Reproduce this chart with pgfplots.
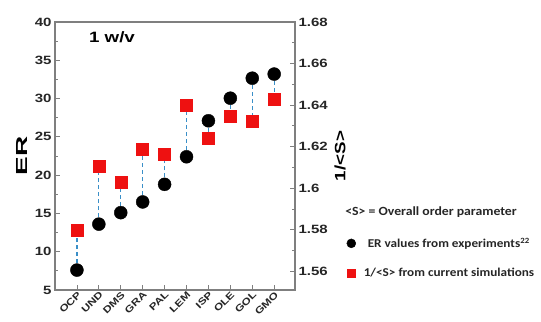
\documentclass[border=0pt]{standalone}
\usepackage{fontspec}
\setmainfont{Liberation Sans}[FakeStretch=1.25]
\newfontfamily\calib{Carlito}[FakeStretch=1.1]
\usepackage{pgfplots}
\pgfplotsset{compat=1.18}
\usepackage{pgfplotstable}
\definecolor{dashblue}{HTML}{3A8FC8}
\definecolor{framegray}{HTML}{7F7F7F}
\definecolor{sqred}{HTML}{EE1111}

\pgfplotstableread{
x er s
0 7.6 1.580
1 13.6 1.6107
2 15.1 1.603
3 16.5 1.6188
4 18.8 1.6164
5 22.4 1.640
6 27.1 1.6242
7 30.05 1.6347
8 32.66 1.6323
9 33.2 1.6427
}\data

\begin{document}
\begin{tikzpicture}
\begin{axis}[name=main, scale only axis, width=240pt, height=268pt,
 xmin=-1, xmax=9.95, ymin=5, ymax=40,
 xtick={0,...,9}, xticklabels={OCP,UND,DMS,GRA,PAL,LEM,ISP,OLE,GOL,GMO},
 xtick pos=bottom, ytick pos=left, ytick={5,10,...,40}, minor y tick num=1,
 tick align=inside, major tick length=5pt, minor tick length=3pt,
 axis line style={framegray, line width=1.3pt},
 every tick/.style={framegray, line width=0.8pt},
 tick label style={font=\bfseries\fontsize{12}{12}\selectfont, text=black!85},
 x tick label style={rotate=45, anchor=north east, font=\bfseries\fontsize{9.5}{9.5}\selectfont, inner sep=0.5pt},
 /pgf/number format/assume math mode=true,
 ylabel={\scalebox{1.4}[1]{ER}}, ylabel style={font=\bfseries\fontsize{16}{16}\selectfont},
 clip=false]
\addplot[only marks, mark=none, error bars/.cd, y dir=both, y explicit, error mark=none,
  error bar style={dashed, dashblue, line width=1.2pt, dash pattern=on 4pt off 3pt}]
  table[x=x, y=er,
   y error plus expr={max(0,5+(\thisrow{s}-1.551)*35/0.129-\thisrow{er})},
   y error minus expr={max(0,\thisrow{er}-5-(\thisrow{s}-1.551)*35/0.129)}] {\data};
\addplot[only marks, mark=*, mark size=6.5pt, black] table[x=x, y=er] {\data};
\node[font=\bfseries\fontsize{15}{15}\selectfont] at (rel axis cs:0.2375,0.944) {1 w/v};
\end{axis}
\begin{axis}[scale only axis, width=240pt, height=268pt,
 xmin=-1, xmax=9.95, ymin=1.551, ymax=1.68,
 axis y line*=right, axis x line=none,
 ytick={1.56,1.58,1.6,1.62,1.64,1.66,1.68}, minor y tick num=1,
 tick align=inside, major tick length=5pt, minor tick length=3pt,
 axis line style={framegray, line width=1.3pt},
 every tick/.style={framegray, line width=0.8pt},
 tick label style={font=\bfseries\fontsize{12}{12}\selectfont, text=black!85},
 /pgf/number format/assume math mode=true,
 ylabel={1/<S>}, ylabel style={font=\bfseries\fontsize{15}{15}\selectfont},
 legend style={at={(1.2025,0.12)}, anchor=west, draw=none, fill=none,
   font=\calib\bfseries\fontsize{12}{12}\selectfont, row sep=15pt,
   nodes={text=black!85}},
 legend cell align=left,
 clip=false]
\addlegendimage{only marks, mark=*, mark size=4.5pt, black}
\addlegendentry{\hspace{10pt}ER values from experiments\textsuperscript{22}}
\addlegendimage{only marks, mark=square*, mark size=4pt, sqred}
\addlegendentry{\hspace{6pt}1/<S> from current simulations}
\addplot[only marks, mark=square*, mark size=6pt, sqred, forget plot] table[x=x, y=s] {\data};
\node[anchor=west, text=black!85, font=\calib\bfseries\fontsize{12.5}{12.5}\selectfont] at (rel axis cs:1.195,0.291) {<S> = Overall order parameter};
\end{axis}
\pgfresetboundingbox
\path[use as bounding box] ([shift={(-55pt,-32pt)}]main.south west) rectangle ([shift={(246pt,22pt)}]main.north east);
\end{tikzpicture}
\end{document}
